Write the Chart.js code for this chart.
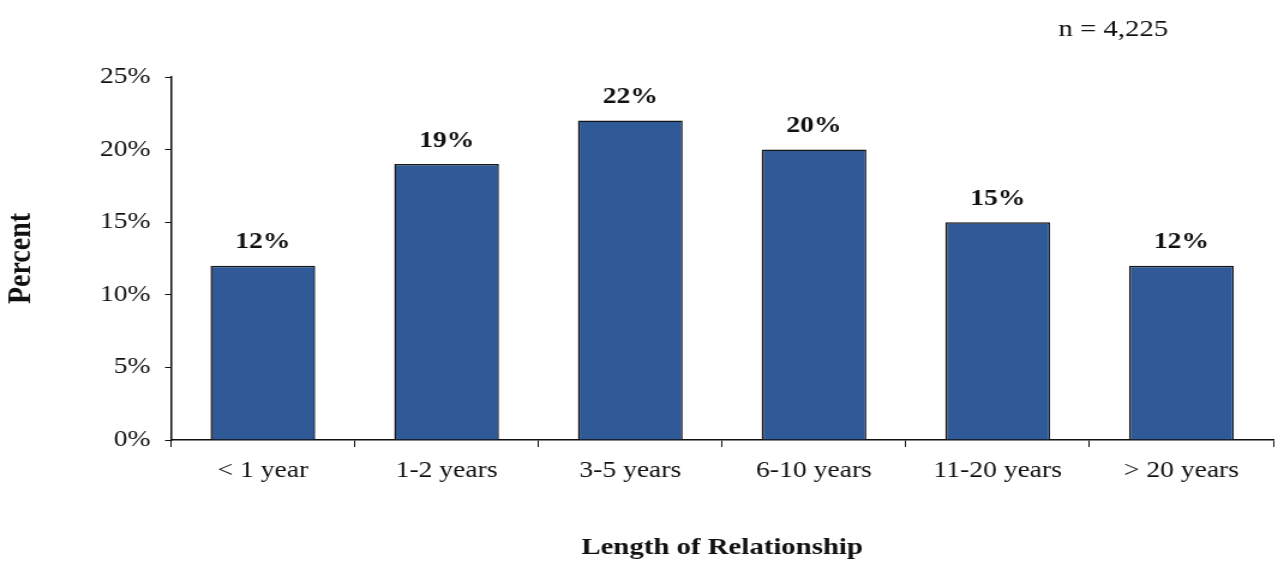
<!DOCTYPE html>
<html>
<head>
<meta charset="utf-8">
<script src="https://cdn.jsdelivr.net/npm/chart.js@4"></script>
<style>
  html, body { margin: 0; padding: 0; background: #fff; overflow: hidden; }
  /* the reference looks horizontally stretched, so draw narrower and stretch */
  #wrap { width: 1065px; height: 562px; position: relative; transform: scaleX(1.2); transform-origin: 0 0; }
</style>
</head>
<body>
<div id="wrap"><canvas id="chart"></canvas></div>
<script>
const categories = ["< 1 year", "1-2 years", "3-5 years", "6-10 years", "11-20 years", "> 20 years"];
const percents = [12, 19, 22, 20, 15, 12];
const yTicks = [0, 5, 10, 15, 20, 25];
const sampleNote = "n = 4,225";

const serif = "'Liberation Serif', 'Times New Roman', serif";

// value labels above bars + sample size note
const labelPlugin = {
  id: "barLabels",
  afterDatasetsDraw(chart) {
    const ctx = chart.ctx;
    const meta = chart.getDatasetMeta(0);
    ctx.save();
    ctx.fillStyle = "#111";
    ctx.font = "bold 23px " + serif;
    ctx.textAlign = "center";
    ctx.textBaseline = "bottom";
    meta.data.forEach((bar, i) => {
      ctx.fillText(percents[i] + "%", bar.x, bar.y - 12);
    });
    ctx.font = "24px " + serif;
    ctx.textAlign = "left";
    ctx.textBaseline = "middle";
    ctx.fillText(sampleNote, 882, 30);
    ctx.restore();
  }
};

const ctx = document.getElementById("chart").getContext("2d");
new Chart(ctx, {
  type: "bar",
  data: {
    labels: categories,
    datasets: [{
      data: percents,
      backgroundColor: "#2f5a97",
      borderColor: "#151515",
      borderWidth: 1.5,
      categoryPercentage: 1,
      barPercentage: 0.57,
    }],
  },
  options: {
    responsive: true,
    maintainAspectRatio: false,
    animation: false,
    layout: { padding: { top: 77, right: 4, left: 0, bottom: 0 } },
    plugins: {
      legend: { display: false },
      tooltip: { enabled: false },
    },
    scales: {
      x: {
        grid: { drawOnChartArea: false, drawTicks: true, tickLength: 7, color: "#111", offset: true },
        border: { color: "#111", width: 1.5 },
        ticks: { color: "#111", font: { family: serif, size: 23 }, padding: 10 },
        title: {
          display: true,
          text: "Length of Relationship",
          color: "#111",
          padding: { top: 4, bottom: 0 },
          font: { family: serif, size: 24, weight: "bold" },
        },
        afterFit(scale) { scale.height = 122; },
      },
      y: {
        min: 0,
        max: 25,
        afterBuildTicks(scale) { scale.ticks = yTicks.map((v) => ({ value: v })); },
        grid: { drawOnChartArea: false, drawTicks: true, tickLength: 5, color: "#111" },
        border: { color: "#111", width: 1.5 },
        ticks: {
          color: "#111",
          font: { family: serif, size: 23 },
          padding: 12,
          callback: (v) => v + "%",
        },
        title: {
          display: true,
          text: "Percent",
          color: "#111",
          padding: { top: 1, bottom: 4 },
          font: { family: serif, size: 28, weight: "bold" },
        },
        afterFit(scale) { scale.width = 142.5; },
      },
    },
  },
  plugins: [labelPlugin],
});
</script>
</body>
</html>
